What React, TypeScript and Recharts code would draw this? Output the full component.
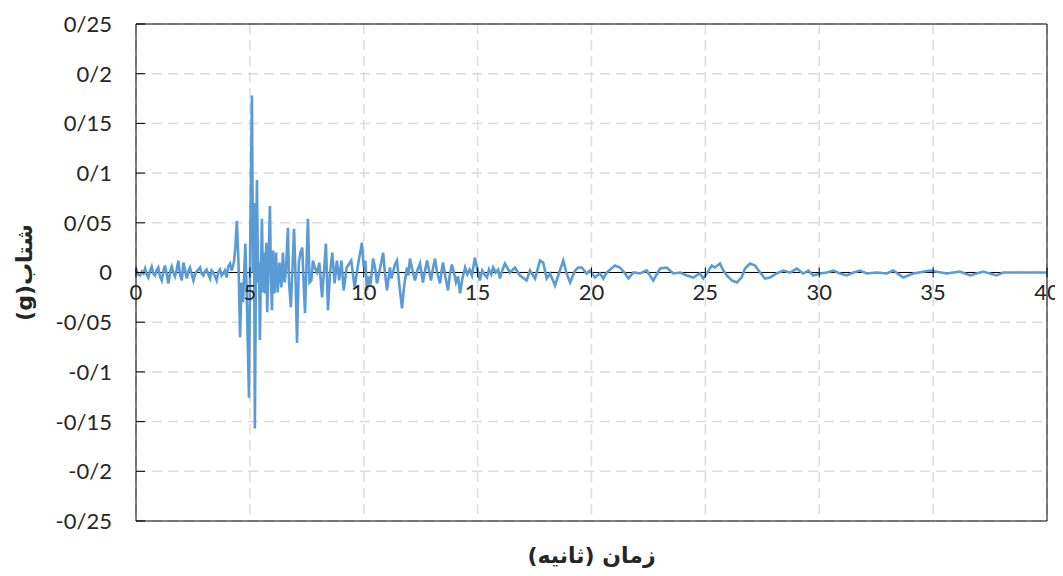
import React from "react";
import {
  LineChart,
  Line,
  XAxis,
  YAxis,
  CartesianGrid,
  ReferenceLine,
  Label,
} from "recharts";

// [time (s), acceleration (g)], phase by phase
const quietPhase: [number, number][] = [
  [0, 0], [0.03, 0.002], [0.1, -0.002], [0.18, -0.003], [0.26, 0.001], [0.33, -0.001],
  [0.4, 0.004], [0.47, -0.002], [0.54, -0.005], [0.62, 0.002], [0.69, 0.006], [0.76, -0.001],
  [0.83, -0.003], [0.9, 0.002], [0.98, 0.005], [1.05, -0.004], [1.13, -0.008], [1.2, 0.001],
  [1.27, 0.007], [1.35, -0.002], [1.42, -0.011], [1.5, 0.001], [1.57, 0.006], [1.64, 0.0],
  [1.71, -0.004], [1.79, 0.003], [1.86, 0.012], [1.93, -0.002], [2.01, -0.008], [2.08, 0.01],
  [2.16, 0.002], [2.23, -0.006], [2.3, 0.001], [2.37, 0.005], [2.45, -0.002], [2.52, -0.008],
  [2.59, -0.002], [2.66, 0.001], [2.74, 0.003], [2.81, 0.005], [2.88, -0.001], [2.96, -0.003],
  [3.03, 0.001], [3.1, 0.003], [3.18, -0.002], [3.25, -0.006], [3.32, 0.002], [3.39, 0.0],
  [3.47, -0.004], [3.54, -0.008], [3.61, 0.0], [3.69, 0.003], [3.76, -0.003], [3.83, -0.001],
  [3.9, 0.002], [3.98, -0.005], [4.05, 0.006], [4.13, 0.009], [4.2, 0.002], [4.27, 0.008],
];

const strongPhase: [number, number][] = [
  [4.3, 0.01], [4.36, 0.025], [4.43, 0.052], [4.5, 0.01], [4.57, -0.065], [4.63, -0.01],
  [4.7, -0.03], [4.8, 0.029], [4.86, -0.02], [4.96, -0.126], [5.02, 0.04], [5.09, 0.178],
  [5.14, 0.0], [5.18, 0.07], [5.22, -0.157], [5.27, 0.02], [5.31, 0.093], [5.36, -0.01],
  [5.4, 0.01], [5.44, -0.068], [5.49, 0.01], [5.53, 0.054], [5.58, -0.02], [5.62, 0.02],
  [5.67, -0.021], [5.72, 0.03], [5.76, -0.04], [5.82, 0.01], [5.88, 0.067], [5.93, -0.01],
  [5.97, -0.038], [6.02, 0.022], [6.08, -0.021], [6.15, 0.02], [6.22, -0.02], [6.3, 0.01],
  [6.38, -0.015], [6.45, 0.02], [6.52, -0.01], [6.58, 0.0], [6.67, 0.045], [6.72, -0.01],
  [6.8, -0.035], [6.88, 0.01], [6.94, 0.044], [7.0, 0.0], [7.07, -0.071], [7.15, 0.01],
  [7.22, 0.02], [7.3, 0.025], [7.36, -0.01], [7.42, -0.041], [7.49, 0.01], [7.55, 0.054],
  [7.62, -0.01], [7.7, -0.008], [7.77, 0.012], [7.85, 0.005], [7.95, 0.0], [8.05, 0.01],
  [8.17, -0.025], [8.25, 0.0], [8.34, 0.029], [8.43, -0.038], [8.52, 0.0], [8.62, 0.02],
  [8.72, -0.011], [8.82, 0.012], [8.92, -0.008], [9.02, 0.012], [9.12, -0.018], [9.25, 0.005],
  [9.45, 0.012], [9.6, -0.015], [9.75, 0.008],
];

const codaPhase: [number, number][] = [
  [9.92, 0.03], [10.0, 0.005], [10.07, 0.012], [10.14, -0.018], [10.22, -0.004], [10.3, -0.012],
  [10.41, 0.014], [10.5, 0.004], [10.58, -0.011], [10.66, -0.002], [10.75, 0.008], [10.85, 0.02],
  [10.93, 0.0], [11.02, -0.018], [11.1, -0.004], [11.15, 0.005], [11.22, -0.006], [11.28, 0.0],
  [11.37, 0.008], [11.46, 0.012], [11.55, -0.01], [11.68, -0.036], [11.78, -0.012], [11.9, 0.005],
  [11.96, -0.003], [12.03, 0.014], [12.12, 0.004], [12.25, -0.008], [12.35, 0.002], [12.47, 0.009],
  [12.53, 0.0], [12.6, -0.01], [12.7, 0.003], [12.78, 0.012], [12.87, 0.002], [12.95, -0.008],
  [13.04, 0.004], [13.13, 0.014], [13.22, 0.0], [13.35, -0.011], [13.42, 0.002], [13.48, 0.01],
  [13.58, -0.004], [13.7, -0.018], [13.78, -0.002], [13.87, 0.008], [13.96, 0.0], [14.05, -0.01],
  [14.14, -0.004], [14.23, -0.021], [14.33, -0.006], [14.45, 0.005], [14.55, -0.002], [14.65, 0.003],
  [14.75, -0.003], [14.88, 0.015], [14.98, 0.004], [15.1, -0.008], [15.2, 0.002], [15.3, -0.002],
  [15.41, -0.005], [15.5, 0.003], [15.6, -0.002], [15.68, 0.005], [15.8, 0.0], [15.9, 0.003],
  [15.98, -0.006], [16.08, 0.002], [16.2, 0.009], [16.42, 0.0], [16.64, 0.005], [16.86, -0.003],
  [17.15, -0.008], [17.3, 0.002], [17.52, -0.006], [17.74, 0.012], [17.88, 0.01], [18.03, -0.006],
  [18.18, -0.001], [18.4, -0.013], [18.54, -0.003], [18.76, 0.012], [18.91, -0.001], [19.06, -0.01],
  [19.28, 0.002], [19.42, 0.005], [19.57, 0.005], [19.79, -0.001], [19.93, 0.002], [20.15, -0.005],
  [20.37, -0.001], [20.52, -0.006], [20.67, 0.0], [21.03, 0.007], [21.25, 0.005], [21.47, -0.001],
  [21.62, -0.006], [21.84, 0.0], [22.13, -0.001], [22.42, 0.002], [22.71, -0.008], [23.01, 0.004],
  [23.3, 0.005], [23.59, -0.001], [23.89, 0.0], [24.18, -0.003], [24.47, -0.005], [24.76, -0.001],
];

const latePhase: [number, number][] = [
  [24.91, -0.006], [25.06, -0.001], [25.28, 0.007], [25.42, 0.005], [25.64, 0.009], [25.79, 0.002],
  [25.94, -0.003], [26.16, -0.008], [26.38, -0.01], [26.59, -0.005], [26.74, 0.004], [26.96, 0.009],
  [27.18, 0.007], [27.4, 0.0], [27.62, -0.006], [27.84, -0.005], [28.13, -0.001], [28.42, 0.002],
  [28.72, 0.0], [29.01, 0.004], [29.3, -0.001], [29.52, 0.002], [29.74, -0.003], [30.03, -0.001],
  [30.33, 0.0], [30.62, 0.002], [30.91, -0.001], [31.2, -0.003], [31.5, 0.0], [31.79, 0.002],
  [32.08, -0.001], [32.52, 0.0], [32.96, -0.001], [33.25, 0.002], [33.69, -0.005], [34.13, -0.001],
  [34.86, 0.002], [35.6, -0.001], [36.18, 0.001], [36.62, -0.003], [37.2, 0.001], [37.79, -0.003],
  [38.08, 0.0], [38.2, 0.0], [40, 0.0],
];

const xTicks = [0, 5, 10, 15, 20, 25, 30, 35, 40];
const yTicks = [0.25, 0.2, 0.15, 0.1, 0.05, 0, -0.05, -0.1, -0.15, -0.2, -0.25];

const chartData = [...quietPhase, ...strongPhase, ...codaPhase, ...latePhase].map(
  ([t, a]) => ({ t, a })
);

const WIDTH = 1055;
const HEIGHT = 565;
const MARGIN = { top: 16, right: 16, bottom: 0, left: 0 };
const Y_AXIS_W = 128;
const X_AXIS_H = 52;
const PLOT_H = HEIGHT - MARGIN.top - MARGIN.bottom - X_AXIS_H;

const FONT = "Lato, 'DejaVu Sans', sans-serif";
const TITLE_FONT = "'DejaVu Sans', sans-serif";
const TEXT = "#262626";

const persianNum = (v: number) => (v === 0 ? "0" : String(v).replace(".", "/"));

// x ticks sit on the zero line, not at the bottom of the plot
const XTick = ({ x, y, payload }: any) => {
  const zeroY = y - PLOT_H / 2;
  return (
    <g>
      <line x1={x} x2={x} y1={zeroY - 5} y2={zeroY + 5} stroke="#000" strokeWidth={1} />
      <text x={x} y={zeroY + 27} textAnchor="middle" fill={TEXT} fontSize={22} fontFamily={FONT}>
        {payload.value}
      </text>
    </g>
  );
};

const YTick = ({ x, y, payload }: any) => (
  <g>
    <line x1={x} x2={x + 9} y1={y} y2={y} stroke="#000" strokeWidth={1} />
    <text x={x - 24} y={y} dy="0.36em" textAnchor="end" fill={TEXT} fontSize={22} fontFamily={FONT}>
      {persianNum(payload.value)}
    </text>
  </g>
);

const YTitle = ({ viewBox }: any) => {
  const cx = viewBox.x + 16;
  const cy = viewBox.y + viewBox.height / 2;
  return (
    <text
      x={cx}
      y={cy}
      transform={`rotate(-90 ${cx} ${cy})`}
      textAnchor="middle"
      dy="0.35em"
      direction="rtl"
      fill={TEXT}
      fontSize={22}
      fontWeight="bold"
      fontFamily={TITLE_FONT}
    >
      شتاب(g)
    </text>
  );
};

const XTitle = ({ viewBox }: any) => (
  <text
    x={viewBox.x + viewBox.width / 2}
    y={viewBox.y + viewBox.height - 10}
    textAnchor="middle"
    direction="rtl"
    fill={TEXT}
    fontSize={22}
    fontWeight="bold"
    fontFamily={TITLE_FONT}
  >
    زمان (ثانیه)
  </text>
);

const App = () => {
  return (
    <div style={{ width: WIDTH, height: HEIGHT }}>
      <LineChart
        width={WIDTH}
        height={HEIGHT}
        data={chartData}
        margin={MARGIN}
        style={{ overflow: "visible" }}
      >
        <CartesianGrid stroke="#d9dce3" strokeWidth={1.5} strokeDasharray="10 6" />
        <XAxis
          type="number"
          dataKey="t"
          domain={[0, 40]}
          ticks={xTicks}
          height={X_AXIS_H}
          tickSize={0}
          tickMargin={0}
          tickLine={false}
          axisLine={{ stroke: "#000" }}
          tick={<XTick />}
          interval={0}
        >
          <Label content={<XTitle />} />
        </XAxis>
        <YAxis
          type="number"
          domain={[-0.25, 0.25]}
          ticks={yTicks}
          width={Y_AXIS_W}
          tickSize={0}
          tickMargin={0}
          tickLine={false}
          axisLine={{ stroke: "#000" }}
          tick={<YTick />}
          interval={0}
        >
          <Label content={<YTitle />} />
        </YAxis>
        <ReferenceLine y={0.25} stroke="#000" />
        <ReferenceLine x={40} stroke="#000" />
        <ReferenceLine y={0} stroke="#000" />
        <Line
          type="linear"
          dataKey="a"
          stroke="#5b9bd5"
          strokeWidth={2.6}
          dot={false}
          isAnimationActive={false}
        />
      </LineChart>
    </div>
  );
};

export default App;
